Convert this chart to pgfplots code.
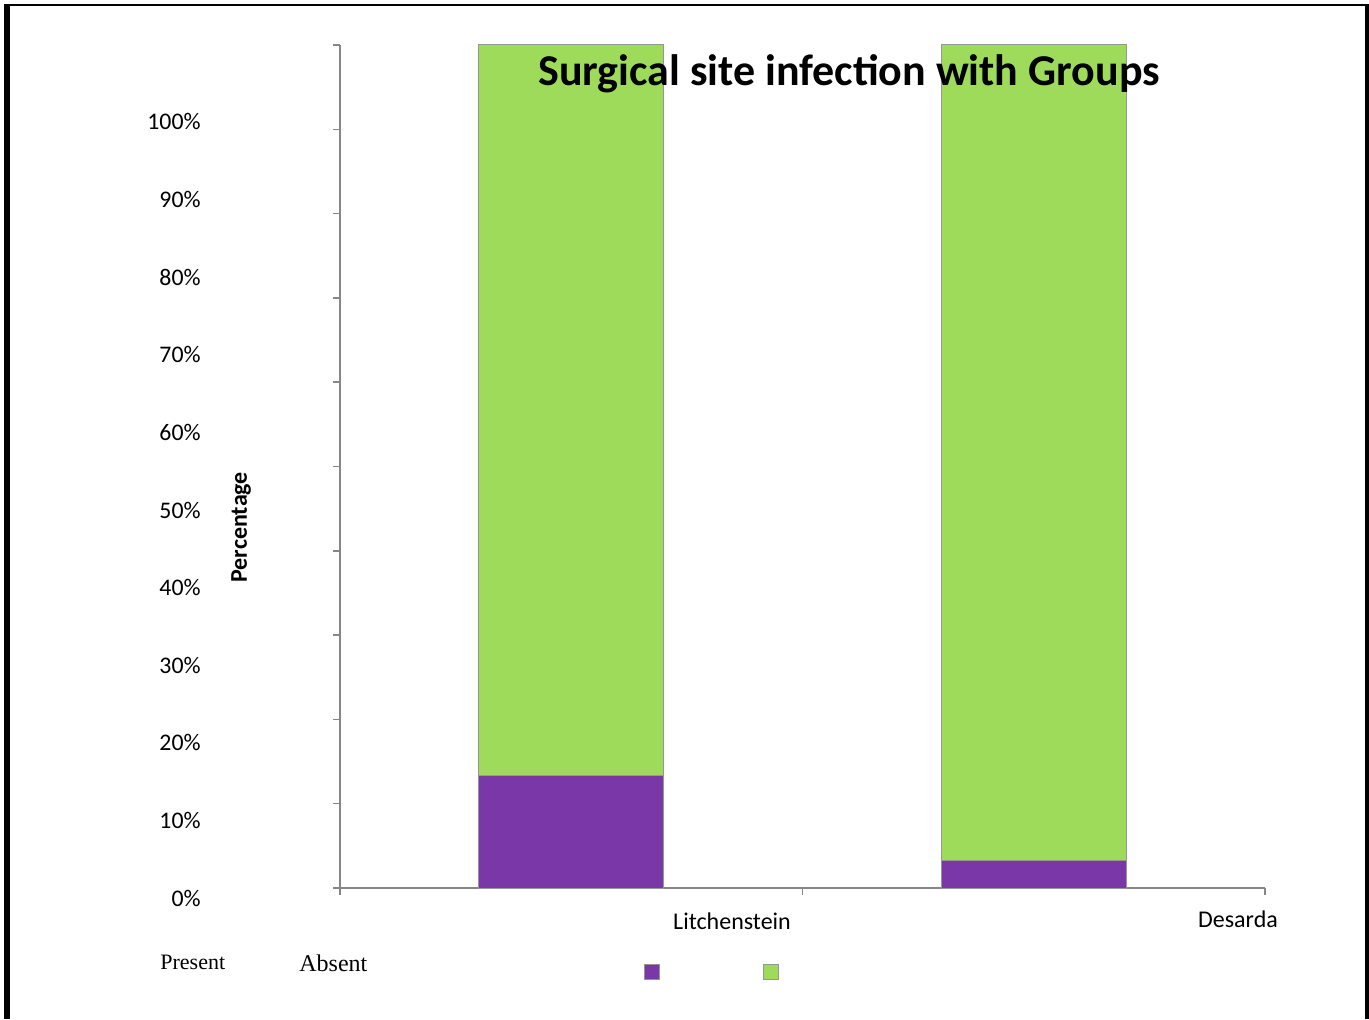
\documentclass[border=0pt]{standalone}
\usepackage{pgfplots}
\pgfplotsset{compat=1.18}
\usepackage{fontspec}
\setmainfont{Carlito}
\newfontfamily\timesfont{Liberation Serif}
\definecolor{barpurple}{RGB}{122,55,168}
\definecolor{bargreen}{RGB}{158,219,90}
\definecolor{axgray}{RGB}{134,134,134}
\definecolor{baredge}{RGB}{150,150,150}
\begin{document}
\begin{tikzpicture}
\path[use as bounding box] (0,0) rectangle (684.5pt,509.5pt);
% frame
\draw[line width=2.75pt] (3.375pt,0) -- (3.375pt,507.5pt);
\draw[line width=1pt] (2pt,507pt) -- (684.5pt,507pt);
\draw[line width=2pt] (683.5pt,0) -- (683.5pt,507.5pt);
% y tick labels (offset as in the original)
\foreach \k/\lab in {0/0\%,1/10\%,2/20\%,3/30\%,4/40\%,5/50\%,6/60\%,7/70\%,8/80\%,9/90\%,10/100\%}{
  \pgfmathsetmacro{\yy}{56.5+38.8*\k}
  \node[anchor=base east, inner sep=0pt, font=\fontsize{11.9pt}{14pt}\selectfont] at (100.5pt,\yy pt) {\lab};
}
% legend texts
\node[anchor=base west, inner sep=0pt, font=\timesfont\fontsize{11pt}{13pt}\selectfont] at (80pt,25pt) {Present};
\node[anchor=base west, inner sep=0pt, font=\timesfont\fontsize{12pt}{14pt}\selectfont] at (149.5pt,23.75pt) {Absent};
\begin{axis}[
  at={(170pt,65.5pt)}, anchor=south west,
  scale only axis, width=462.5pt, height=421.5pt,
  xmin=0, xmax=2, ymin=0, ymax=1,
  clip=false,
  axis x line*=bottom, axis y line*=left,
  axis line style={draw=axgray, line width=0.75pt},
  xtick={0,1,2}, xticklabel=\mbox{},
  ytick={0,0.1,0.2,0.3,0.4,0.5,0.6,0.7,0.8,0.9,1}, yticklabel=\mbox{},
  tick align=outside, major tick length=3.5pt,
  tick style={draw=axgray, line width=0.75pt},
  ybar stacked, bar width=92.5pt,
  ylabel={Percentage},
  ylabel style={at={(axis description cs:-0.107,0.428)}, anchor=center, font=\fontsize{12pt}{14pt}\selectfont\bfseries},
  title={Surgical site infection with Groups},
  title style={at={(axis description cs:0.5503,0.9597)}, anchor=base, yshift=-9.5pt, inner sep=0pt, font=\fontsize{22pt}{26pt}\selectfont\bfseries},
  legend columns=2,
  legend style={draw=none, fill=none, inner sep=0pt, outer sep=0pt,
    at={(axis description cs:0.3286,-0.099)}, anchor=west,
    nodes={inner sep=0pt},
    /tikz/every odd column/.style={column sep=0pt},
    /tikz/every even column/.style={column sep=50.75pt}},
  sq/.style={legend image code/.code={\draw[##1, draw=baredge, line width=0.4pt] (0pt,-3.75pt) rectangle (7.5pt,3.75pt);}},
]
\addplot[fill=barpurple, draw=baredge, line width=0.5pt, sq] coordinates {(0.5,0.133) (1.5,0.033)};
\addlegendentry{\mbox{}}
\addplot[fill=bargreen, draw=baredge, line width=0.5pt, sq] coordinates {(0.5,0.867) (1.5,0.967)};
\addlegendentry{\mbox{}}
\node[anchor=base, inner sep=0pt, font=\fontsize{12pt}{14pt}\selectfont] at (axis cs:0.8476,0) [yshift=-20.5pt] {Litchenstein};
\node[anchor=base, inner sep=0pt, font=\fontsize{12pt}{14pt}\selectfont] at (axis cs:1.9416,0) [yshift=-19.5pt] {Desarda};
\end{axis}
\end{tikzpicture}
\end{document}
